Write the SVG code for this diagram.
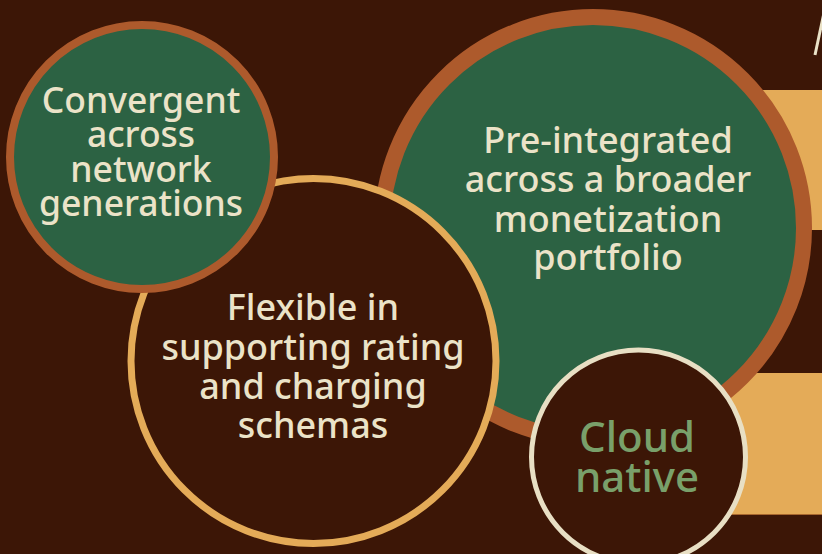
<svg xmlns="http://www.w3.org/2000/svg" width="822" height="554" viewBox="0 0 822 554">
<style>
.t{font-family:"Noto Sans","Open Sans",sans-serif;fill:#ebe3c8;text-anchor:middle;font-weight:500}
.c{font-family:"Noto Sans","Open Sans",sans-serif;fill:#79a06a;text-anchor:middle;font-weight:500}
</style>
<rect width="822" height="554" fill="#3c1606"/>
<g id="deco">
<rect x="720" y="90" width="102" height="140" fill="#e4ab58"/>
<rect x="700" y="373" width="122" height="142" fill="#e4ab58"/>
<line x1="700" y1="514.5" x2="822" y2="514.5" stroke="#a8672e" stroke-width="1"/>
<line x1="815" y1="55" x2="825" y2="8" stroke="#ebe3c8" stroke-width="3"/>
</g>
<g id="preintegrated">
<circle cx="593" cy="228" r="211" fill="#2c6243" stroke="#ad5a2c" stroke-width="16"/>
<text class="t" font-size="36"><tspan x="608" y="153">Pre-integrated</tspan><tspan x="608" y="192">across a broader</tspan><tspan x="608" y="232">monetization</tspan><tspan x="608" y="270">portfolio</tspan></text>
</g>
<g id="flexible">
<circle cx="313.5" cy="361" r="182.5" fill="#3c1606" stroke="#e4ab58" stroke-width="7"/>
<text class="t" font-size="36"><tspan x="313" y="320">Flexible in</tspan><tspan x="313" y="360">supporting rating</tspan><tspan x="313" y="399">and charging</tspan><tspan x="313" y="438">schemas</tspan></text>
</g>
<g id="convergent">
<circle cx="142" cy="157" r="132" fill="#2c6243" stroke="#ad5a2c" stroke-width="8"/>
<text class="t" font-size="35.5"><tspan x="141" y="113">Convergent</tspan><tspan x="141" y="147">across</tspan><tspan x="141" y="182">network</tspan><tspan x="141" y="216">generations</tspan></text>
</g>
<g id="cloud">
<circle cx="638.5" cy="457" r="107" fill="#3c1606" stroke="#e8dfc4" stroke-width="5"/>
<text class="c" font-size="42"><tspan x="637" y="452">Cloud</tspan><tspan x="637" y="492">native</tspan></text>
</g>
<g id="connectors"/>
</svg>
